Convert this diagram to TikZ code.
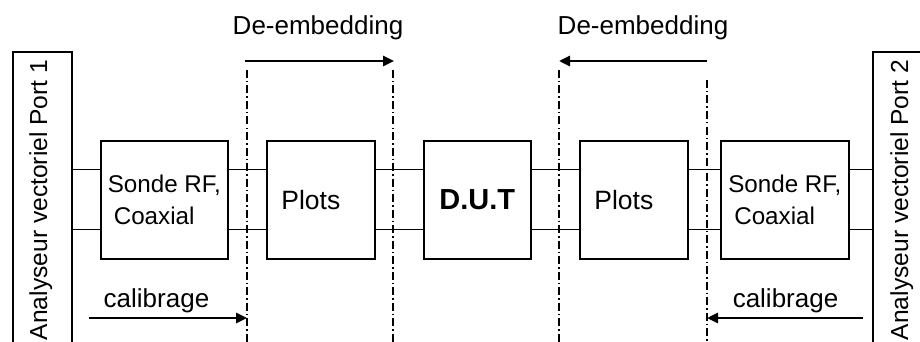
\documentclass[tikz,border=0pt]{standalone}
\usepackage{fontspec}
\setmainfont{Liberation Sans}
\usetikzlibrary{arrows.meta,calc}
\begin{document}
\begin{tikzpicture}[x=1pt,y=-1pt,
  box/.style={draw,line width=1.6pt,inner sep=0pt,anchor=north west,minimum height=118pt},
  portbox/.style={draw,line width=1.6pt,inner sep=0pt,anchor=north west,minimum height=330pt},
  wire/.style={line width=1pt},
  bigarrow/.style={line width=2.6pt,-{Triangle[length=11pt,width=10pt]}},
  cut/.style={line width=2pt,dash pattern=on 8pt off 3pt on 1.5pt off 3pt},
  lbl/.style={font=\fontsize{26}{30}\selectfont,inner sep=0pt,anchor=base},
  sonde/.style={font=\fontsize{24.2}{32}\selectfont,align=left},
  plotlbl/.style={label={[font=\fontsize{26.5}{30}\selectfont,xshift=-10pt,inner sep=0pt]center:Plots}}
]
\useasboundingbox (0,0) rectangle (920,342);
\clip (0,0) rectangle (920,342);
\fill[white] (0,0) rectangle (920,342);

% port boxes
\node[portbox,minimum width=59pt] (p1) at (12,51) {};
\node[portbox,minimum width=70pt] (p2) at (872,51) {};
\node[font=\fontsize{24.6}{28}\selectfont,inner sep=0pt,anchor=base,rotate=90] (p1t) at (47,200) {Analyseur vectoriel Port 1};
\node[font=\fontsize{24.6}{28}\selectfont,inner sep=0pt,anchor=base,rotate=90] (p2t) at (908,200) {Analyseur vectoriel Port 2};

% blocks
\node[box,minimum width=127pt,sonde] (s1) at (100,140) {Sonde RF,\\\hspace*{6pt}Coaxial};
\node[box,minimum width=108pt,plotlbl] (pl1) at (266,140) {};
\node[box,minimum width=107pt,font=\fontsize{29}{32}\selectfont\bfseries] (dut) at (423,140) {D.U.T};
\node[box,minimum width=108pt,plotlbl] (pl2) at (579,140) {};
\node[box,minimum width=128pt,sonde] (s2) at (720,140) {Sonde RF,\\\hspace*{6pt}Coaxial};

% wires
\foreach \dy in {-29pt,-89pt}{
  \draw[wire] ([yshift=\dy]s1.north west -| p1.east) -- ([yshift=\dy]s1.north west);
  \draw[wire] ([yshift=\dy]s1.north east) -- ([yshift=\dy]pl1.north west);
  \draw[wire] ([yshift=\dy]pl1.north east) -- ([yshift=\dy]dut.north west);
  \draw[wire] ([yshift=\dy]dut.north east) -- ([yshift=\dy]pl2.north west);
  \draw[wire] ([yshift=\dy]pl2.north east) -- ([yshift=\dy]s2.north west);
  \draw[wire] ([yshift=\dy]s2.north east) -- ([yshift=\dy]s2.north east -| p2.west);
}

% reference planes
\coordinate (c1t) at (247,70);  \coordinate (c1b) at (247,342);
\coordinate (c2t) at (393,70);  \coordinate (c2b) at (393,342);
\coordinate (c3t) at (559,70);  \coordinate (c3b) at (559,342);
\coordinate (c4t) at (707,80);  \coordinate (c4b) at (707,342);
\draw[cut] (c1t) -- (c1b);
\draw[cut] (c2t) -- (c2b);
\draw[cut] (c3t) -- (c3b);
\draw[cut] (c4t) -- (c4b);

% arrows
\coordinate (d1s) at (245,61); \coordinate (d1e) at (394,61);
\coordinate (d2s) at (707,61); \coordinate (d2e) at (559,61);
\coordinate (k1s) at (89,318); \coordinate (k1e) at (247,318);
\coordinate (k2s) at (863,318); \coordinate (k2e) at (707,318);
\draw[bigarrow] (d1s) -- (d1e);
\draw[bigarrow] (d2s) -- (d2e);
\draw[bigarrow] (k1s) -- (k1e);
\draw[bigarrow] (k2s) -- (k2e);

% labels
\node[lbl] (de1) at (318,35) {De-embedding};
\node[lbl] (de2) at (643,35) {De-embedding};
\node[lbl] (ca1) at (156.5,307) {calibrage};
\node[lbl] (ca2) at (785.5,307) {calibrage};
\end{tikzpicture}
\end{document}
